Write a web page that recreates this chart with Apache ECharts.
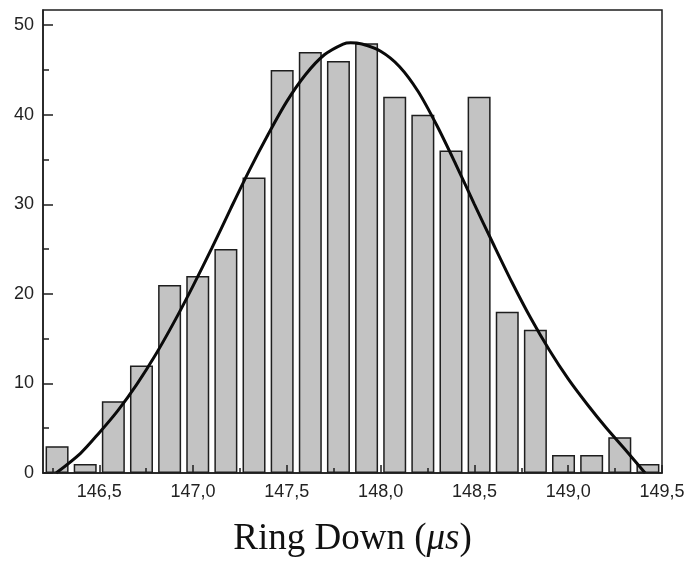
<!DOCTYPE html>
<html>
<head>
<meta charset="utf-8">
<script src="https://cdn.jsdelivr.net/npm/echarts@6/dist/echarts.min.js"></script>
<style>html,body{margin:0;padding:0;background:#fff}#c{width:688px;height:563px}</style>
</head>
<body>
<div id="c"></div>
<script>
// Histogram bin centres (Ring Down, µs) and counts
const binCenters = [146.275, 146.425, 146.575, 146.725, 146.875, 147.025, 147.175, 147.325, 147.475, 147.625, 147.775,
                    147.925, 148.075, 148.225, 148.375, 148.525, 148.675, 148.825, 148.975, 149.125, 149.275, 149.425];
const counts = [3, 1, 8, 12, 21, 22, 25, 33, 45, 47, 46, 48, 42, 40, 36, 42, 18, 16, 2, 2, 4, 1];

// Fitted curve
const curveX = [146.27, 146.4, 146.5, 146.6, 146.7, 146.8, 146.9, 147.0, 147.1, 147.2, 147.3, 147.4, 147.5, 147.6, 147.7,
                147.8, 147.84, 147.9, 148.0, 148.1, 148.2, 148.3, 148.4, 148.5, 148.6, 148.7, 148.8, 148.9, 149.0, 149.1,
                149.2, 149.3, 149.41];
const curveY = [0, 2.2, 4.5, 7.0, 9.9, 13.2, 16.9, 20.9, 25.1, 29.5, 33.8, 37.8, 41.5, 44.5, 46.7,
                47.9, 48.05, 47.9, 47.1, 45.4, 42.6, 38.8, 34.5, 30.0, 25.6, 21.3, 17.3, 13.7, 10.5, 7.7,
                5.1, 2.7, 0];

// Tick positions
const xMajorTicks = [146.5, 147.0, 147.5, 148.0, 148.5, 149.0, 149.5];
const xMinorTicks = [146.25, 146.75, 147.25, 147.75, 148.25, 148.75, 149.25];
const yMajorTicks = [0, 10, 20, 30, 40, 50];
const yMinorTicks = [5, 15, 25, 35, 45];

const xLabel = 'Ring Down (';
const xLabelUnit = 'μs';

const X_MIN = 146.2, X_MAX = 149.5, Y_MIN = 0, Y_MAX = 51.7;

const axisColor = '#1e1e1e';
const labelStyle = { color: '#222', fontFamily: 'Liberation Sans, Arial, sans-serif', fontSize: 18 };

const chart = echarts.init(document.getElementById('c'), null, { renderer: 'canvas' });
chart.setOption({
  backgroundColor: '#fff',
  animation: false,
  grid: { left: 43, right: 26, top: 10, bottom: 85, show: true, borderColor: axisColor, borderWidth: 1.5, backgroundColor: 'transparent' },
  xAxis: [
    {
      type: 'value', min: X_MIN, max: X_MAX, z: 5,
      axisLine: { show: true, onZero: false, lineStyle: { color: axisColor, width: 1.5 } },
      axisTick: { show: true, inside: true, length: 8, customValues: xMajorTicks, lineStyle: { color: axisColor, width: 1.5 } },
      axisLabel: Object.assign({ margin: 10, customValues: xMajorTicks,
        formatter: v => Number(v).toFixed(1).replace('.', ',') }, labelStyle),
      splitLine: { show: false },
      name: '{a|' + xLabel + '}{b|' + xLabelUnit + '}{a|)}',
      nameLocation: 'middle', nameGap: 48,
      nameTextStyle: {
        rich: {
          a: { fontFamily: 'Liberation Serif, Times New Roman, serif', fontSize: 37, color: '#111' },
          b: { fontFamily: 'Liberation Serif, Times New Roman, serif', fontSize: 37, fontStyle: 'italic', color: '#111' }
        }
      }
    },
    {
      type: 'value', min: X_MIN, max: X_MAX, position: 'bottom', z: 5,
      axisLine: { show: false },
      axisTick: { show: true, inside: true, length: 5, customValues: xMinorTicks, lineStyle: { color: axisColor, width: 1.5 } },
      axisLabel: { show: false },
      splitLine: { show: false }
    }
  ],
  yAxis: [
    {
      type: 'value', min: Y_MIN, max: Y_MAX, z: 5,
      axisLine: { show: true, onZero: false, lineStyle: { color: axisColor, width: 1.5 } },
      axisTick: { show: true, inside: true, length: 10, customValues: yMajorTicks, lineStyle: { color: axisColor, width: 1.5 } },
      axisLabel: Object.assign({ margin: 9, customValues: yMajorTicks }, labelStyle),
      splitLine: { show: false }
    },
    {
      type: 'value', min: Y_MIN, max: Y_MAX, position: 'left', z: 5,
      axisLine: { show: false },
      axisTick: { show: true, inside: true, length: 6, customValues: yMinorTicks, lineStyle: { color: axisColor, width: 1.5 } },
      axisLabel: { show: false },
      splitLine: { show: false }
    }
  ],
  series: [
    {
      type: 'bar', xAxisIndex: 0, yAxisIndex: 0,
      data: binCenters.map((x, i) => [x, counts[i]]),
      barWidth: 23,
      itemStyle: { color: '#c3c3c3', borderColor: '#1e1e1e', borderWidth: 1.5 },
      z: 2
    },
    {
      type: 'line', xAxisIndex: 0, yAxisIndex: 0,
      data: curveX.map((x, i) => [x, curveY[i]]),
      smooth: 0.3, symbol: 'none',
      lineStyle: { color: '#0a0a0a', width: 3 },
      z: 3
    }
  ]
});
</script>
</body>
</html>
